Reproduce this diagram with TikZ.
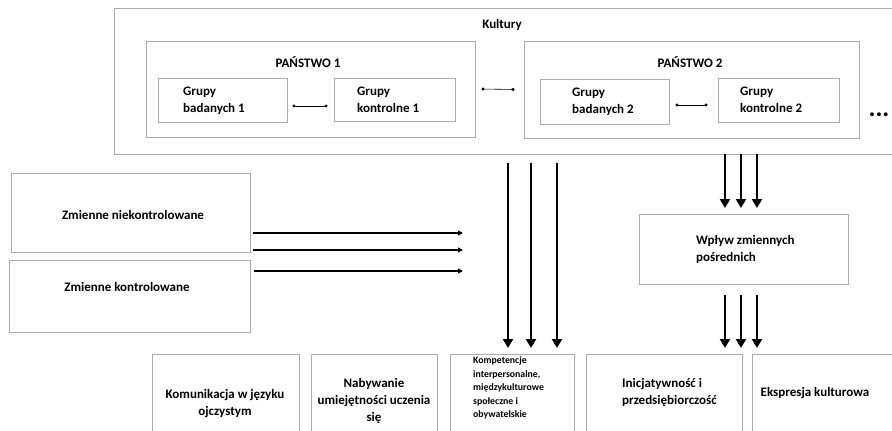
\documentclass[tikz,border=0pt]{standalone}
\usepackage{fontspec}
\setmainfont{Carlito}
\usetikzlibrary{arrows.meta}
\begin{document}
\begin{tikzpicture}[x=1pt,y=-1pt,
  box/.style={draw=gray!65,line width=0.8pt,rectangle,inner sep=0pt},
  txt/.style={font=\fontsize{13}{17}\selectfont\bfseries,inner sep=0pt},
  smalltxt/.style={font=\fontsize{9.8}{13.5}\selectfont\bfseries,inner sep=0pt},
  link/.style={line width=0.6pt,{Circle[length=3pt]}-{Circle[length=3pt]}},
  bigarrow/.style={line width=2.6pt,-{Triangle[length=9pt,width=10pt]}},
  harrow/.style={line width=1.5pt,-{Triangle[length=5pt,width=5pt]}}]
\useasboundingbox (0,0) rectangle (892,431);
\clip (0,0) rectangle (892,431);
% outer box
\node[box,minimum width=786pt,minimum height=146pt] (kult) at (507,81) {};
\node[txt] (kulttxt) at (502,25) {Kultury};
% state boxes
\node[box,minimum width=329pt,minimum height=96pt] (p1) at (310.5,89) {};
\node[txt] (p1txt) at (308,62) {PAŃSTWO 1};
\node[box,minimum width=335pt,minimum height=97pt] (p2) at (691.5,89.5) {};
\node[txt] (p2txt) at (690,62) {PAŃSTWO 2};
% group boxes
\node[box,minimum width=129pt,minimum height=44pt] (gb1) at (222.5,100) {};
\node[txt,anchor=west,align=left] (gb1t) at (183,101) {Grupy\\badanych 1};
\node[box,minimum width=121pt,minimum height=43pt] (gk1) at (394.5,99.5) {};
\node[txt,anchor=west,align=left] (gk1t) at (357,100) {Grupy\\kontrolne 1};
\node[box,minimum width=129pt,minimum height=45pt] (gb2) at (604.5,101.5) {};
\node[txt,anchor=west,align=left] (gb2t) at (572,102) {Grupy\\badanych 2};
\node[box,minimum width=121pt,minimum height=44pt] (gk2) at (778.5,100) {};
\node[txt,anchor=west,align=left] (gk2t) at (740,100) {Grupy\\kontrolne 2};
\node[font=\fontsize{26}{26}\selectfont\bfseries,inner sep=0pt] (more) at (879,115) {...};
% links
\draw[link] ([xshift=5pt,yshift=-6pt]gb1.east) -- ([xshift=-6pt,yshift=-6.5pt]gk1.west);
\draw[link] ([xshift=6pt]p1.east) -- ([xshift=-9pt]p2.west);
\draw[link] ([xshift=6pt,yshift=-3.5pt]gb2.east) -- ([xshift=-10pt,yshift=-5pt]gk2.west);
% left boxes
\node[box,minimum width=239pt,minimum height=79pt] (zn) at (130.5,212.5) {};
\node[txt] (zntxt) at (133,215) {Zmienne niekontrolowane};
\node[box,minimum width=241pt,minimum height=72pt] (zk) at (129.5,296) {};
\node[txt] (zktxt) at (127,287) {Zmienne kontrolowane};
\coordinate (h1s) at (253,233); \coordinate (h1e) at (463,233);
\coordinate (h2s) at (253,250); \coordinate (h2e) at (463,250);
\coordinate (h3s) at (254,271); \coordinate (h3e) at (463,271);
\draw[harrow] (h1s) -- (h1e);
\draw[harrow] (h2s) -- (h2e);
\draw[harrow] (h3s) -- (h3e);
% intermediate box
\node[box,minimum width=209pt,minimum height=70pt] (wp) at (743.5,249) {};
\node[txt,anchor=west,align=left] (wptxt) at (696,249) {Wpływ zmiennych\\pośrednich};
% bottom boxes
\node[box,anchor=north west,minimum width=147pt,minimum height=100pt] (b1) at (152,354) {};
\node[txt,align=center] (b1t) at (225,403.5) {Komunikacja w języku\\ojczystym};
\node[box,anchor=north west,minimum width=126pt,minimum height=100pt] (b2) at (311,354) {};
\node[txt,align=center] (b2t) at (374,400.5) {Nabywanie\\umiejętności uczenia\\się};
\node[box,anchor=north west,minimum width=124pt,minimum height=100pt] (b3) at (450,354) {};
\node[smalltxt,anchor=west,align=left] (b3t) at (473,388) {Kompetencje\\interpersonalne,\\międzykulturowe\\społeczne i\\obywatelskie};
\node[box,anchor=north west,minimum width=156pt,minimum height=100pt] (b4) at (586,354) {};
\node[txt,anchor=west,align=left] (b4t) at (622,392.5) {Inicjatywność i\\przedsiębiorczość};
\node[box,anchor=north west,minimum width=150pt,minimum height=100pt] (b5) at (752,354) {};
\node[txt] (b5t) at (815,393) {Ekspresja kulturowa};
% vertical arrows
\foreach \i/\x in {1/508,2/531,3/557}{
  \coordinate (va\i) at (\x,163);
  \coordinate (vb\i) at (\x,348);
  \draw[bigarrow] (va\i) -- (vb\i);
}
\foreach \i/\x in {1/725,2/741,3/757}{
  \draw[bigarrow] (\x,154) coordinate (ua\i) -- (\x,208) coordinate (ub\i);
  \draw[bigarrow] (\x,295) coordinate (la\i) -- (\x,348) coordinate (lb\i);
}
\end{tikzpicture}
\end{document}
